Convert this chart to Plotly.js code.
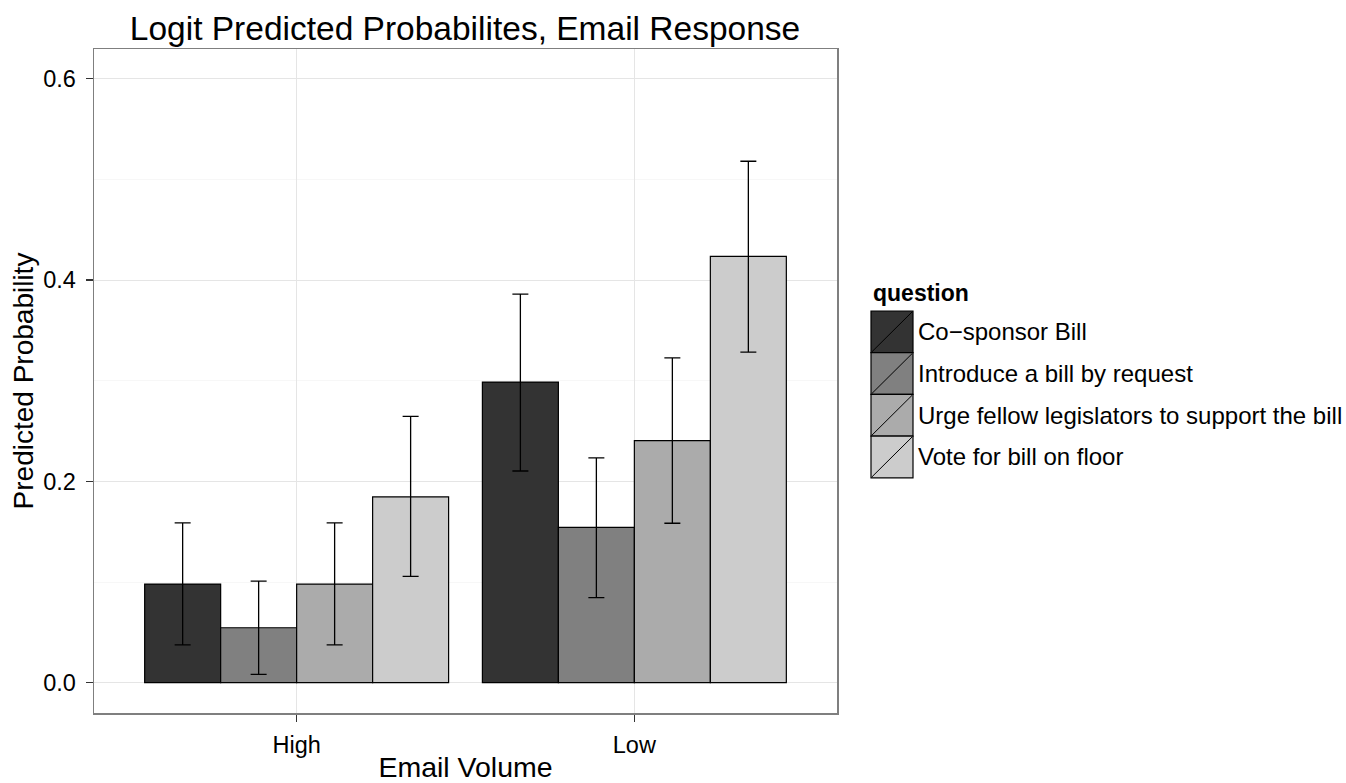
<!DOCTYPE html>
<html>
<head>
<meta charset="utf-8">
<script src="https://cdn.plot.ly/plotly-3.0.1.min.js"></script>
<style>html,body{margin:0;padding:0;background:#fff;}#chart{width:1346px;height:783px;}</style>
</head>
<body>
<div id="chart"></div>
<script>
const categories = ["High", "Low"];
const questions = ["Co\u2212sponsor Bill", "Introduce a bill by request", "Urge fellow legislators to support the bill", "Vote for bill on floor"];
const fills = ["#333333", "#808080", "#ABABAB", "#CCCCCC"];
const cosponsor = [0.098, 0.2986];
const cosponsorLo = [0.0375, 0.2103];
const cosponsorHi = [0.1587, 0.386];
const introduce = [0.0546, 0.1542];
const introduceLo = [0.0083, 0.0846];
const introduceHi = [0.101, 0.2233];
const urge = [0.098, 0.2404];
const urgeLo = [0.0375, 0.1584];
const urgeHi = [0.1587, 0.3226];
const vote = [0.1845, 0.4235];
const voteLo = [0.1057, 0.3284];
const voteHi = [0.2645, 0.518];

const series = [
  [cosponsor, cosponsorLo, cosponsorHi],
  [introduce, introduceLo, introduceHi],
  [urge, urgeLo, urgeHi],
  [vote, voteLo, voteHi]
];

const FONT = "Liberation Sans, Arial, Helvetica, sans-serif";

const traces = series.map((s, i) => ({
  type: "bar",
  name: questions[i],
  x: categories,
  y: s[0],
  marker: {color: fills[i], line: {color: "#000000", width: 1.2}},
  error_y: {
    type: "data", symmetric: false,
    array: s[0].map((v, k) => s[2][k] - v),
    arrayminus: s[0].map((v, k) => v - s[1][k]),
    color: "#000000", thickness: 1.3, width: 8
  },
  showlegend: false,
  hoverinfo: "skip"
}));

// plot area in pixels
const L = 94, R = 837, T = 49, B = 713, W = 1346, H = 783;
const px = x => (x - L) / (R - L);
const py = y => (B - y) / (B - T);

const shapes = [];
const annotations = [];
annotations.push({
  xref: "paper", yref: "paper", x: px(871), y: py(293), xanchor: "left", yanchor: "middle",
  text: "<b>question</b>", showarrow: false, font: {family: FONT, size: 23, color: "#000"}
});
const keyH = 41.7;
questions.forEach((q, i) => {
  const y0 = 311 + keyH * i, y1 = y0 + keyH;
  shapes.push({type: "rect", xref: "paper", yref: "paper",
    x0: px(871), x1: px(913), y0: py(y1), y1: py(y0),
    fillcolor: fills[i], line: {color: "#000", width: 1.2}});
  shapes.push({type: "line", xref: "paper", yref: "paper",
    x0: px(872), x1: px(912), y0: py(y1 - 1), y1: py(y0 + 1),
    line: {color: "#000", width: 1}});
  annotations.push({
    xref: "paper", yref: "paper", x: px(916), y: py((y0 + y1) / 2), xanchor: "left", yanchor: "middle",
    text: q, showarrow: false, font: {family: FONT, size: 24, color: "#000"}
  });
});

const layout = {
  width: W, height: H,
  margin: {l: L, r: W - R, t: T, b: H - B, pad: 0},
  paper_bgcolor: "#fff", plot_bgcolor: "#fff",
  barmode: "group", bargap: 0.1, bargroupgap: 0,
  font: {family: FONT, color: "#000"},
  title: {text: "Logit Predicted Probabilites, Email Response", x: px(465), xref: "paper", xanchor: "center",
    y: 1 - 28 / H, yref: "container", yanchor: "middle", font: {family: FONT, size: 33.5, color: "#000"}},
  xaxis: {
    type: "category", range: [-0.6, 1.6],
    showgrid: true, gridcolor: "#E5E5E5", gridwidth: 1,
    showline: true, linecolor: "#7F7F7F", linewidth: 1.5, mirror: true,
    ticks: "outside", ticklen: 7, tickcolor: "#333", tickwidth: 1.5,
    ticklabelstandoff: 3,
    tickfont: {family: FONT, size: 23.5, color: "#000"},
    title: {text: "Email Volume", font: {family: FONT, size: 28.5, color: "#000"}, standoff: 3},
    zeroline: false, fixedrange: true
  },
  yaxis: {
    range: [-0.0301, 0.6295],
    tickvals: [0, 0.2, 0.4, 0.6], ticktext: ["0.0", "0.2", "0.4", "0.6"],
    showgrid: true, gridcolor: "#E5E5E5", gridwidth: 1,
    minor: {tickvals: [0.1, 0.3, 0.5], showgrid: true, gridcolor: "#F7F7F7", gridwidth: 1, ticks: ""},
    showline: true, linecolor: "#7F7F7F", linewidth: 1.5, mirror: true,
    ticks: "outside", ticklen: 7, tickcolor: "#333", tickwidth: 1.5,
    ticklabelstandoff: 5,
    tickfont: {family: FONT, size: 23.5, color: "#000"},
    title: {text: "Predicted Probability", font: {family: FONT, size: 28, color: "#000"}, standoff: 1},
    zeroline: false, fixedrange: true
  },
  shapes: shapes,
  annotations: annotations
};

Plotly.newPlot("chart", traces, layout, {staticPlot: true, displayModeBar: false});
</script>
</body>
</html>
